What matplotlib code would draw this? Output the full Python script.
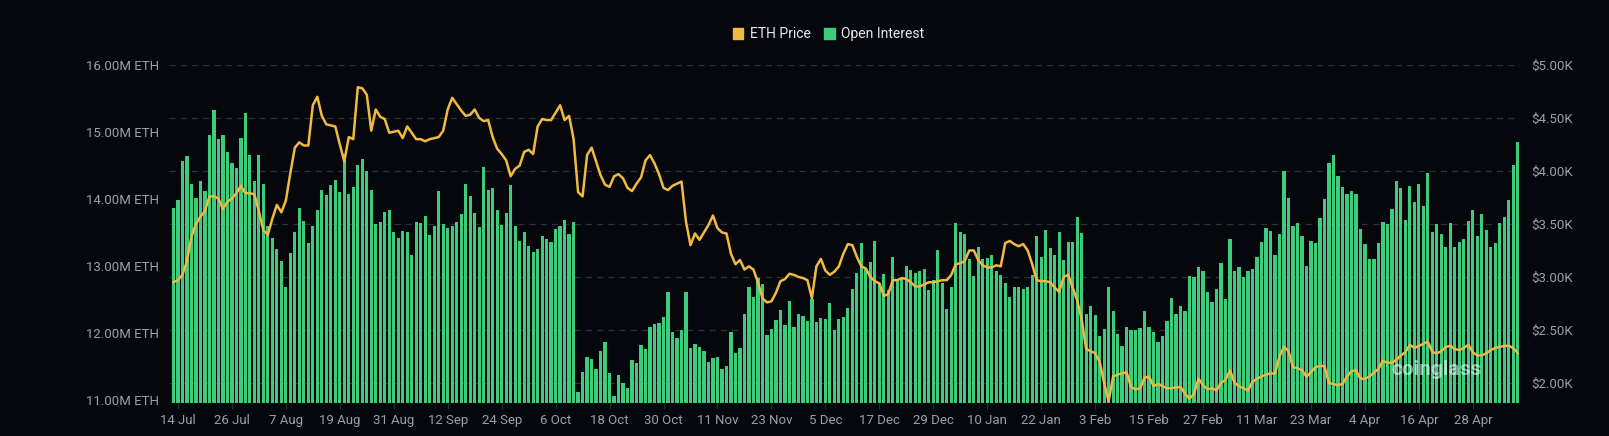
import matplotlib
matplotlib.use("Agg")
import matplotlib.pyplot as plt
import matplotlib.ticker as ticker
from matplotlib.patches import Patch
import pandas as pd

# Daily data, 13 Jul 2024 - 8 May 2025
start_date = "2024-07-13"

# Open interest (million ETH)
open_interest = [
    13.86, 13.99, 14.57, 14.64, 14.22, 14.02, 14.27, 14.12, 14.96, 15.33,
    14.89, 14.95, 14.70, 14.53, 14.46, 14.91, 15.29, 14.66, 14.27, 14.65,
    14.23, 13.59, 13.42, 13.26, 13.07, 12.69, 13.19, 13.51, 13.87, 13.67,
    13.35, 13.60, 13.83, 14.13, 14.06, 14.21, 14.28, 14.11, 14.67, 14.07,
    14.18, 14.51, 14.60, 14.42, 14.13, 13.63, 13.65, 13.80, 13.83, 13.51,
    13.42, 13.52, 13.51, 13.17, 13.65, 13.64, 13.74, 13.46, 13.59, 14.12,
    13.63, 13.56, 13.59, 13.65, 13.78, 14.22, 14.05, 13.79, 13.58, 14.48,
    14.13, 14.17, 13.84, 13.61, 13.79, 14.21, 13.60, 13.38, 13.50, 13.30,
    13.21, 13.25, 13.45, 13.40, 13.36, 13.55, 13.59, 13.68, 13.47, 13.65,
    11.12, 11.42, 11.64, 11.61, 11.46, 11.73, 11.87, 11.41, 11.06, 11.38,
    11.25, 11.18, 11.60, 11.55, 11.82, 11.76, 12.09, 12.14, 12.15, 12.24,
    12.61, 12.01, 11.93, 12.05, 12.61, 11.78, 11.84, 11.79, 11.73, 11.56,
    11.62, 11.64, 11.46, 11.51, 12.01, 11.70, 11.77, 12.29, 12.69, 12.54,
    12.82, 12.73, 11.97, 12.06, 12.20, 12.34, 12.12, 12.47, 12.09, 12.29,
    12.26, 12.18, 12.50, 12.17, 12.23, 12.21, 12.45, 12.05, 12.21, 12.24,
    12.38, 12.65, 12.90, 13.34, 12.97, 13.06, 13.37, 12.75, 12.88, 12.64,
    13.13, 12.78, 12.81, 13.00, 12.94, 12.89, 12.92, 12.96, 12.64, 12.79,
    13.24, 12.74, 12.36, 12.68, 13.64, 13.50, 13.47, 13.11, 12.85, 13.28,
    13.10, 13.12, 13.16, 12.93, 12.87, 12.75, 12.54, 12.68, 12.68, 12.65,
    12.68, 12.86, 13.45, 13.14, 13.53, 13.27, 13.16, 13.51, 13.09, 13.36,
    13.36, 13.73, 13.49, 12.29, 12.41, 12.27, 11.95, 12.06, 12.69, 12.33,
    11.99, 11.81, 12.09, 12.05, 12.04, 12.07, 12.33, 12.09, 12.02, 11.86,
    11.96, 12.18, 12.52, 12.28, 12.40, 12.33, 12.85, 12.83, 12.98, 12.93,
    12.61, 12.46, 12.66, 13.05, 12.51, 13.41, 12.93, 12.99, 12.83, 12.93,
    12.95, 13.13, 13.36, 13.56, 13.52, 13.17, 13.48, 14.41, 14.02, 13.59,
    13.64, 13.45, 13.00, 13.38, 13.34, 13.72, 14.00, 14.53, 14.66, 14.34,
    14.18, 14.08, 14.12, 14.07, 13.55, 13.33, 13.10, 13.11, 13.34, 13.65,
    13.63, 13.85, 14.27, 14.16, 13.69, 14.20, 13.96, 14.22, 13.90, 14.39,
    13.50, 13.63, 13.47, 13.28, 13.64, 13.28, 13.36, 13.40, 13.67, 13.84,
    13.44, 13.77, 13.54, 13.29, 13.35, 13.64, 13.73, 13.99, 14.50, 14.85,
]

# ETH price (thousand USD)
eth_price = [
    2.95, 2.97, 3.02, 3.15, 3.38, 3.50, 3.57, 3.62, 3.76, 3.76,
    3.74, 3.64, 3.71, 3.74, 3.79, 3.86, 3.79, 3.79, 3.78, 3.62,
    3.44, 3.40, 3.55, 3.68, 3.61, 3.72, 3.98, 4.22, 4.27, 4.24,
    4.24, 4.62, 4.70, 4.52, 4.44, 4.43, 4.42, 4.25, 4.09, 4.32,
    4.30, 4.79, 4.78, 4.72, 4.38, 4.58, 4.51, 4.49, 4.36, 4.37,
    4.38, 4.31, 4.42, 4.36, 4.30, 4.30, 4.28, 4.30, 4.31, 4.32,
    4.38, 4.58, 4.69, 4.63, 4.57, 4.52, 4.53, 4.58, 4.50, 4.47,
    4.48, 4.32, 4.21, 4.16, 4.10, 3.95, 4.02, 4.05, 4.18, 4.20,
    4.16, 4.42, 4.49, 4.48, 4.48, 4.55, 4.62, 4.48, 4.52, 4.30,
    3.80, 3.76, 4.15, 4.22, 4.09, 3.96, 3.87, 3.85, 3.95, 3.97,
    3.93, 3.84, 3.81, 3.88, 3.94, 4.10, 4.15, 4.07, 3.97, 3.84,
    3.82, 3.86, 3.88, 3.90, 3.52, 3.30, 3.41, 3.35, 3.42, 3.49,
    3.58, 3.46, 3.42, 3.41, 3.22, 3.12, 3.16, 3.07, 3.10, 3.07,
    2.95, 2.80, 2.76, 2.77, 2.85, 2.96, 2.98, 3.03, 3.02, 3.00,
    2.99, 2.97, 2.80, 3.10, 3.17, 3.06, 3.02, 3.05, 3.10, 3.22,
    3.31, 3.30, 3.19, 3.10, 3.08, 3.00, 2.96, 2.94, 2.82, 2.84,
    2.97, 2.97, 2.99, 2.98, 2.95, 2.91, 2.91, 2.93, 2.95, 2.95,
    2.96, 2.97, 2.97, 3.02, 3.12, 3.13, 3.15, 3.25, 3.25, 3.16,
    3.11, 3.09, 3.09, 3.11, 3.10, 3.32, 3.34, 3.31, 3.29, 3.31,
    3.25, 3.12, 2.97, 2.96, 2.96, 2.95, 2.90, 2.86, 3.00, 3.02,
    2.90, 2.78, 2.60, 2.32, 2.30, 2.28, 2.20, 2.00, 1.83, 2.06,
    2.08, 2.09, 2.10, 1.96, 1.94, 1.95, 2.05, 2.06, 1.97, 1.99,
    1.97, 1.95, 1.95, 1.96, 1.96, 1.90, 1.85, 1.90, 2.04, 1.98,
    1.94, 1.95, 1.93, 2.00, 2.03, 2.12, 2.00, 1.97, 1.95, 1.93,
    2.01, 2.04, 2.06, 2.08, 2.09, 2.09, 2.25, 2.34, 2.30, 2.15,
    2.14, 2.12, 2.06, 2.10, 2.15, 2.16, 2.16, 2.00, 1.99, 1.98,
    1.99, 2.06, 2.11, 2.12, 2.04, 2.04, 2.06, 2.10, 2.13, 2.21,
    2.19, 2.19, 2.22, 2.26, 2.29, 2.36, 2.33, 2.35, 2.37, 2.39,
    2.29, 2.28, 2.30, 2.34, 2.35, 2.32, 2.31, 2.33, 2.36, 2.29,
    2.26, 2.26, 2.28, 2.31, 2.33, 2.34, 2.35, 2.35, 2.33, 2.28,
]

dates = pd.date_range(start_date, periods=len(open_interest), freq="D")
tick_dates = pd.date_range("2024-07-14", "2025-04-28", freq="12D")

# Colours
bg = "#05070c"
bar_green = "#3dcc7c"
price_gold = "#f0b941"
label_grey = "#9c9fa5"
grid_grey = "#2c2f36"

plt.rcParams["font.family"] = ["Roboto", "DejaVu Sans"]

fig = plt.figure(figsize=(16.09, 4.36), dpi=100, facecolor=bg)
ax = fig.add_axes([0.105, 0.0757, 0.8397, 0.7753])
ax2 = ax.twinx()

# price axis sits underneath (holds the dashed grid), bars + line on top
ax.set_zorder(ax2.get_zorder() + 1)
ax.patch.set_visible(False)
ax2.patch.set_facecolor(bg)

x = list(range(len(dates)))

# Right axis: price scale and grid
ax2.set_ylim(1.811, 5.0)
ax2.set_yticks([2.0, 2.5, 3.0, 3.5, 4.0, 4.5, 5.0])
ax2.yaxis.set_major_formatter(ticker.FuncFormatter(lambda v, _: f"${v:.2f}K"))
ax2.grid(True, axis="y", linestyle=(0, (5, 4)), color=grid_grey, linewidth=0.9)

# Open interest bars on the left axis
ax.bar(x, open_interest, width=0.72, color=bar_green, zorder=2)
ax.set_ylim(10.955, 16.0)
ax.set_yticks([11, 12, 13, 14, 15, 16])
ax.yaxis.set_major_formatter(ticker.FuncFormatter(lambda v, _: f"{v:.2f}M ETH"))

# Price line drawn in right-axis coordinates, above the bars
ax.plot(x, eth_price, color=price_gold, linewidth=1.8, zorder=3,
        transform=ax2.transData, solid_joinstyle="round")

# x ticks every 12 days
tick_pos = [dates.get_loc(d) for d in tick_dates]
ax.set_xticks(tick_pos)
ax.set_xticklabels([f"{d.day} {d.strftime('%b')}" for d in tick_dates])
ax.set_xlim(-1.0, len(dates) - 0.5)
ax2.set_xlim(-1.0, len(dates) - 0.5)

for a in (ax, ax2):
    for s in a.spines.values():
        s.set_visible(False)
    a.tick_params(colors=label_grey, labelsize=9.5, length=0)
ax.tick_params(axis="x", length=4, color="#2a2d33", pad=4)
ax.tick_params(axis="y", pad=7)
ax2.tick_params(axis="y", pad=8)

# Legend at the top
handles = [Patch(facecolor=price_gold, edgecolor=price_gold, label="ETH Price"),
           Patch(facecolor=bar_green, edgecolor=bar_green, label="Open Interest")]
fig.legend(handles=handles, loc="center", bbox_to_anchor=(0.515, 0.922), ncol=2,
           frameon=False, handlelength=0.75, handleheight=0.85, handletextpad=0.45,
           columnspacing=1.0, labelcolor="#e8e8ea", fontsize=10)

# Watermark
ax.text(0.972, 0.1, "coinglass", transform=ax.transAxes, ha="right", va="center",
        fontsize=15, fontweight="bold", color="white", alpha=0.55, zorder=5)

fig.savefig("out.png", dpi=100, facecolor=bg)
